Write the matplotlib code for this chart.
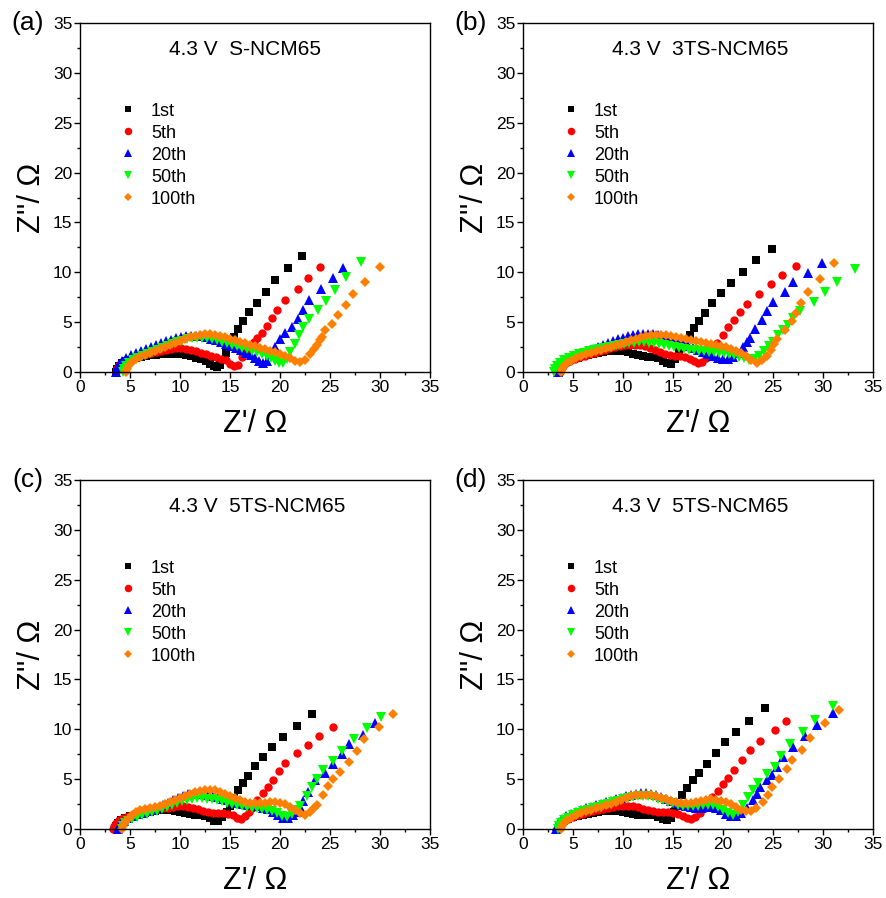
import matplotlib
matplotlib.use("Agg")
import matplotlib.pyplot as plt
from matplotlib.ticker import MultipleLocator

plt.rcParams['font.family'] = ['Liberation Sans', 'DejaVu Sans']

cycles = ['1st', '5th', '20th', '50th', '100th']
colors = ['#000000', '#FF0000', '#0000FF', '#00FF00', '#FF8000']
markers = ['s', 'o', '^', 'v', 'D']
msizes = [5.4, 6.0, 6.9, 6.9, 5.0]

titles = ['4.3 V  S-NCM65', '4.3 V  3TS-NCM65', '4.3 V  5TS-NCM65', '4.3 V  5TS-NCM65']
panel_tags = ['(a)', '(b)', '(c)', '(d)']

# (Z', Z'') points, one list per cycle and panel
a_1st = [(3.6,0.0),(3.7,0.35),(3.9,0.65),(4.2,0.9),(4.6,1.1),(5.1,1.25),(5.6,1.4),(6.1,1.5),(6.6,1.6),(7.1,1.7),
         (7.6,1.75),(8.1,1.8),(8.6,1.85),(9.1,1.85),(9.6,1.85),(10.1,1.8),(10.6,1.7),(11.1,1.6),(11.6,1.45),(12.1,1.3),
         (12.6,1.1),(13.0,0.85),(13.4,0.65),(13.7,0.55),(14.0,0.7),(14.3,1.2),(14.6,1.9),(15.0,2.9),(15.4,3.5),(15.8,4.3),
         (16.3,5.1),(16.9,6.0),(17.7,6.9),(18.6,8.0),(19.5,9.2),(20.8,10.4),(22.2,11.6)]
a_5th = [(3.6,0.0),(3.7,0.4),(3.9,0.7),(4.2,0.95),(4.6,1.2),(5.1,1.4),(5.6,1.55),(6.1,1.7),(6.6,1.85),(7.1,1.95),
         (7.6,2.05),(8.1,2.15),(8.6,2.25),(9.1,2.35),(9.6,2.4),(10.1,2.4),(10.6,2.35),(11.1,2.25),(11.6,2.1),(12.1,1.95),
         (12.6,1.8),(13.1,1.65),(13.6,1.5),(14.1,1.35),(14.6,1.2),(15.0,0.85),(15.4,0.65),(15.8,0.7),(16.2,1.5),(16.6,2.0),
         (17.0,2.5),(17.4,3.0),(17.7,3.4),(18.2,3.95),(18.7,4.6),(19.2,5.45),(19.7,6.25),(20.5,7.2),(21.8,8.3),(22.8,9.4),
         (24.0,10.5)]
a_20th = [(3.6,0.0),(3.7,0.45),(3.9,0.8),(4.2,1.1),(4.6,1.45),(5.1,1.7),(5.6,1.95),(6.1,2.15),(6.6,2.35),(7.1,2.55),
          (7.6,2.75),(8.1,2.95),(8.6,3.1),(9.1,3.25),(9.6,3.4),(10.1,3.5),(10.6,3.6),(11.1,3.65),(11.6,3.65),(12.1,3.6),
          (12.6,3.5),(13.1,3.35),(13.6,3.2),(14.1,3.0),(14.6,2.8),(15.1,2.6),(15.6,2.4),(16.1,2.2),(16.6,1.95),(17.1,1.7),
          (17.5,1.4),(17.9,1.1),(18.3,0.95),(18.7,1.1),(19.0,1.8),(19.5,2.5),(20.0,3.35),(20.5,3.9),(21.2,4.5),(21.8,5.35),
          (22.3,6.2),(22.9,7.2),(24.1,8.3),(25.3,9.4),(26.3,10.45)]
a_50th = [(4.3,0.0),(4.4,0.35),(4.6,0.65),(4.9,0.95),(5.3,1.2),(5.7,1.4),(6.2,1.6),(6.7,1.8),(7.2,2.0),(7.7,2.2),
          (8.2,2.4),(8.7,2.6),(9.2,2.8),(9.7,3.0),(10.2,3.15),(10.7,3.3),(11.2,3.4),(11.7,3.45),(12.2,3.45),(12.7,3.4),
          (13.2,3.3),(13.7,3.2),(14.2,3.05),(14.7,2.9),(15.2,2.75),(15.7,2.6),(16.2,2.45),(16.7,2.3),(17.2,2.15),(17.7,2.0),
          (18.2,1.85),(18.7,1.65),(19.1,1.4),(19.5,1.15),(19.9,0.95),(20.3,0.95),(20.7,1.3),(21.0,2.0),(21.5,2.85),(21.9,3.7),
          (22.3,4.5),(22.9,5.3),(23.8,6.2),(24.6,7.15),(25.5,8.25),(26.6,9.5),(28.1,11.0)]
a_100th = [(4.6,0.0),(4.7,0.35),(4.9,0.7),(5.2,1.0),(5.6,1.3),(6.0,1.5),(6.5,1.7),(7.0,1.9),(7.5,2.1),(8.0,2.3),
           (8.5,2.5),(9.0,2.7),(9.5,2.9),(10.0,3.1),(10.5,3.3),(11.0,3.5),(11.5,3.65),(12.0,3.75),(12.5,3.8),(13.0,3.8),
           (13.5,3.75),(14.0,3.65),(14.5,3.5),(15.0,3.35),(15.5,3.2),(16.0,3.05),(16.5,2.9),(17.0,2.75),(17.5,2.6),(18.0,2.45),
           (18.5,2.3),(19.0,2.15),(19.5,2.0),(20.0,1.85),(20.5,1.65),(21.0,1.4),(21.5,1.15),(22.0,1.0),(22.5,1.2),(23.0,1.85),
           (23.4,2.3),(23.7,2.75),(24.0,3.2),(24.2,3.55),(24.5,4.2),(25.2,4.8),(25.8,5.7),(26.6,6.7),(27.3,7.8),(28.5,9.0),
           (30.0,10.5)]

b_1st = [(3.5,0.0),(3.6,0.35),(3.8,0.65),(4.1,0.9),(4.5,1.1),(5.0,1.3),(5.5,1.45),(6.0,1.6),(6.5,1.75),(7.0,1.85),
         (7.5,1.95),(8.0,2.05),(8.5,2.1),(9.0,2.15),(9.5,2.15),(10.0,2.1),(10.5,2.0),(11.0,1.85),(11.5,1.7),(12.0,1.6),
         (12.5,1.55),(13.0,1.5),(13.5,1.4),(14.0,1.15),(14.4,0.9),(14.8,0.85),(15.2,1.3),(15.6,2.0),(16.0,2.6),(16.7,3.7),
         (17.1,4.4),(17.6,5.1),(18.2,5.9),(18.9,6.9),(19.8,7.9),(20.8,8.9),(22.0,10.0),(23.3,11.2),(24.9,12.3)]
b_5th = [(3.7,0.0),(3.8,0.35),(4.0,0.65),(4.3,0.9),(4.7,1.1),(5.2,1.3),(5.7,1.5),(6.2,1.65),(6.7,1.8),(7.2,1.95),
         (7.7,2.1),(8.2,2.25),(8.7,2.4),(9.2,2.5),(9.7,2.6),(10.2,2.7),(10.7,2.75),(11.2,2.75),(11.7,2.7),(12.2,2.6),
         (12.7,2.45),(13.2,2.25),(13.7,2.0),(14.2,1.85),(14.7,1.75),(15.2,1.65),(15.7,1.6),(16.2,1.5),(16.7,1.35),(17.1,1.1),
         (17.5,0.95),(17.9,1.0),(18.3,1.4),(18.7,2.1),(19.4,2.9),(20.0,3.7),(20.5,4.5),(21.1,5.2),(21.7,6.0),(22.4,6.85),
         (23.6,7.85),(24.8,8.8),(25.9,9.75),(27.3,10.6)]
b_20th = [(3.5,0.0),(3.6,0.35),(3.8,0.7),(4.1,1.0),(4.5,1.25),(5.0,1.5),(5.5,1.7),(6.0,1.9),(6.5,2.1),(7.0,2.3),
          (7.5,2.5),(8.0,2.7),(8.5,2.9),(9.0,3.1),(9.5,3.3),(10.0,3.45),(10.5,3.6),(11.0,3.7),(11.5,3.8),(12.0,3.85),
          (12.5,3.85),(13.0,3.8),(13.5,3.7),(14.0,3.55),(14.5,3.4),(15.0,3.2),(15.5,3.0),(16.0,2.8),(16.5,2.6),(17.0,2.4),
          (17.5,2.2),(18.0,2.0),(18.5,1.8),(19.0,1.6),(19.5,1.45),(20.0,1.35),(20.5,1.35),(21.0,1.5),(21.5,1.9),(22.0,2.5),
          (22.4,3.0),(22.7,3.4),(23.2,4.35),(23.9,5.2),(24.4,6.1),(25.0,7.0),(26.2,8.0),(27.0,9.0),(28.5,9.9),(29.9,10.9)]
b_50th = [(3.1,0.0),(3.2,0.35),(3.4,0.65),(3.7,0.95),(4.1,1.2),(4.6,1.45),(5.1,1.65),(5.6,1.8),(6.1,1.95),(6.6,2.1),
          (7.1,2.2),(7.6,2.3),(8.1,2.4),(8.6,2.5),(9.1,2.6),(9.6,2.7),(10.1,2.8),(10.6,2.9),(11.1,2.95),(11.6,3.0),
          (12.1,3.0),(12.6,2.95),(13.1,2.9),(13.6,2.8),(14.1,2.7),(14.6,2.6),(15.1,2.5),(15.6,2.4),(16.1,2.3),(16.6,2.25),
          (17.1,2.2),(17.6,2.15),(18.1,2.1),(18.6,2.05),(19.1,2.0),(19.6,1.95),(20.1,1.9),(20.6,1.8),(21.1,1.7),(21.6,1.55),
          (22.1,1.4),(22.6,1.25),(23.1,1.3),(23.6,1.6),(24.1,2.1),(24.6,2.6),(25.0,3.05),(25.5,3.7),(26.0,4.2),(26.5,4.7),
          (27.0,5.4),(27.7,6.1),(29.1,7.0),(30.2,8.0),(31.4,9.0),(33.2,10.3)]
b_100th = [(3.8,0.0),(3.9,0.3),(4.1,0.6),(4.4,0.9),(4.8,1.15),(5.3,1.4),(5.8,1.6),(6.3,1.8),(6.8,1.95),(7.3,2.1),
           (7.8,2.25),(8.3,2.4),(8.8,2.55),(9.3,2.7),(9.8,2.85),(10.3,3.0),(10.8,3.2),(11.3,3.35),(11.8,3.5),(12.3,3.6),
           (12.8,3.7),(13.3,3.75),(13.8,3.75),(14.3,3.7),(14.8,3.65),(15.3,3.55),(15.8,3.45),(16.3,3.35),(16.8,3.25),(17.3,3.15),
           (17.8,3.05),(18.3,2.95),(18.8,2.85),(19.3,2.75),(19.8,2.65),(20.3,2.5),(20.8,2.35),(21.3,2.15),(21.8,1.9),(22.3,1.6),
           (22.8,1.25),(23.4,0.95),(23.9,1.2),(24.4,1.6),(24.8,2.2),(25.1,2.8),(25.4,3.35),(26.2,4.2),(26.9,5.1),(27.3,5.9),
           (27.8,6.9),(28.5,8.0),(29.7,9.3),(31.1,10.9)]

c_1st = [(3.5,0.0),(3.6,0.35),(3.8,0.65),(4.1,0.9),(4.5,1.1),(5.0,1.3),(5.5,1.45),(6.0,1.55),(6.5,1.65),(7.0,1.75),
         (7.5,1.85),(8.0,1.9),(8.5,1.9),(9.0,1.9),(9.5,1.85),(10.0,1.75),(10.5,1.6),(11.0,1.5),(11.5,1.45),(12.0,1.4),
         (12.5,1.35),(13.0,1.1),(13.4,0.85),(13.8,0.8),(14.2,1.2),(14.7,1.75),(15.0,2.3),(15.4,3.1),(15.8,3.95),(16.3,4.6),
         (16.8,5.3),(17.5,6.3),(18.3,7.2),(19.2,8.2),(20.3,9.2),(21.7,10.3),(23.2,11.5)]
c_5th = [(3.3,0.0),(3.4,0.35),(3.6,0.65),(3.9,0.9),(4.3,1.1),(4.8,1.3),(5.3,1.45),(5.8,1.6),(6.3,1.7),(6.8,1.8),
         (7.3,1.9),(7.8,2.0),(8.3,2.1),(8.8,2.15),(9.3,2.25),(9.8,2.3),(10.3,2.3),(10.8,2.25),(11.3,2.15),(11.8,2.0),
         (12.3,1.85),(12.8,1.75),(13.3,1.65),(13.8,1.6),(14.3,1.6),(14.8,1.55),(15.3,1.4),(15.7,1.15),(16.1,1.05),(16.5,1.3),
         (16.9,1.7),(17.2,2.1),(17.7,2.9),(18.3,3.6),(18.8,4.2),(19.3,4.9),(19.9,5.8),(20.5,6.6),(21.7,7.6),(22.8,8.4),
         (23.9,9.3),(25.3,10.25)]
c_20th = [(3.8,0.0),(3.9,0.3),(4.1,0.6),(4.4,0.85),(4.8,1.1),(5.3,1.3),(5.8,1.5),(6.3,1.65),(6.8,1.8),(7.3,1.95),
          (7.8,2.15),(8.3,2.4),(8.8,2.65),(9.3,2.9),(9.8,3.15),(10.3,3.35),(10.8,3.5),(11.3,3.55),(11.8,3.55),(12.3,3.5),
          (12.8,3.45),(13.3,3.35),(13.8,3.2),(14.3,3.05),(14.8,2.9),(15.3,2.75),(15.8,2.6),(16.3,2.5),(16.8,2.45),(17.3,2.4),
          (17.8,2.3),(18.3,2.15),(18.8,2.0),(19.3,1.75),(19.8,1.45),(20.3,1.15),(20.8,1.15),(21.3,1.4),(21.7,1.75),(22.0,2.2),
          (22.3,2.8),(22.8,3.7),(23.5,4.9),(24.5,5.6),(25.3,6.5),(26.2,7.5),(26.9,8.5),(28.3,9.4),(29.5,10.6)]
c_50th = [(4.2,0.0),(4.3,0.3),(4.5,0.6),(4.8,0.85),(5.2,1.05),(5.7,1.25),(6.2,1.4),(6.7,1.55),(7.2,1.7),(7.7,1.85),
          (8.2,2.0),(8.7,2.2),(9.2,2.4),(9.7,2.6),(10.2,2.8),(10.7,2.95),(11.2,3.05),(11.7,3.1),(12.2,3.1),(12.7,3.05),
          (13.2,3.0),(13.7,2.9),(14.2,2.8),(14.7,2.65),(15.2,2.5),(15.7,2.4),(16.2,2.3),(16.7,2.2),(17.2,2.15),(17.7,2.1),
          (18.2,2.05),(18.7,1.95),(19.2,1.8),(19.7,1.6),(20.2,1.35),(20.7,1.25),(21.2,1.5),(21.6,1.9),(22.0,2.3),(22.7,3.3),
          (23.2,4.2),(23.7,5.05),(24.3,5.9),(25.3,6.85),(26.2,7.8),(27.4,9.0),(28.7,10.1),(30.1,11.2)]
c_100th = [(4.2,0.0),(4.3,0.35),(4.5,0.7),(4.8,1.05),(5.2,1.4),(5.6,1.7),(6.0,1.9),(6.5,2.05),(7.0,2.15),(7.5,2.25),
           (8.0,2.35),(8.5,2.5),(9.0,2.7),(9.5,2.9),(10.0,3.1),(10.5,3.3),(11.0,3.5),(11.5,3.7),(12.0,3.85),(12.5,3.95),
           (13.0,3.95),(13.5,3.9),(14.0,3.75),(14.5,3.55),(15.0,3.35),(15.5,3.1),(16.0,2.9),(16.5,2.75),(17.0,2.65),(17.5,2.6),
           (18.0,2.6),(18.5,2.65),(19.0,2.7),(19.5,2.7),(20.0,2.65),(20.5,2.5),(21.0,2.25),(21.5,1.9),(22.0,1.6),(22.5,1.45),
           (23.0,1.7),(23.4,2.1),(23.7,2.45),(24.3,3.4),(24.8,4.3),(25.3,5.0),(26.0,5.75),(26.9,6.75),(27.7,7.85),(28.4,9.0),
           (29.9,10.25),(31.3,11.5)]

d_1st = [(3.5,0.0),(3.6,0.3),(3.8,0.6),(4.1,0.85),(4.5,1.05),(5.0,1.2),(5.5,1.35),(6.0,1.45),(6.5,1.55),(7.0,1.65),
         (7.5,1.75),(8.0,1.8),(8.5,1.85),(9.0,1.85),(9.5,1.8),(10.0,1.7),(10.5,1.6),(11.0,1.5),(11.5,1.45),(12.0,1.45),
         (12.5,1.45),(13.0,1.4),(13.5,1.25),(14.0,1.0),(14.4,0.9),(14.8,1.1),(15.1,1.7),(15.4,2.4),(15.9,3.4),(16.4,4.1),
         (17.0,4.9),(17.6,5.6),(18.4,6.5),(19.3,7.6),(20.2,8.7),(21.3,9.7),(22.6,10.8),(24.2,12.1)]
d_5th = [(3.5,0.0),(3.6,0.3),(3.8,0.6),(4.1,0.85),(4.5,1.05),(5.0,1.25),(5.5,1.4),(6.0,1.55),(6.5,1.7),(7.0,1.85),
         (7.5,1.95),(8.0,2.05),(8.5,2.15),(9.0,2.25),(9.5,2.3),(10.0,2.35),(10.5,2.35),(11.0,2.3),(11.5,2.2),(12.0,2.05),
         (12.5,1.9),(13.0,1.8),(13.5,1.75),(14.0,1.7),(14.5,1.7),(15.0,1.65),(15.5,1.55),(16.0,1.35),(16.4,1.15),(16.8,1.05),
         (17.2,1.2),(17.7,1.6),(18.2,2.1),(18.9,3.2),(19.5,3.8),(20.0,4.55),(20.5,5.1),(21.1,5.9),(21.9,6.9),(22.7,7.9),
         (23.7,8.8),(25.2,9.9),(26.3,10.8)]
d_20th = [(3.3,0.0),(3.4,0.35),(3.6,0.7),(3.9,1.0),(4.3,1.3),(4.8,1.55),(5.3,1.75),(5.8,1.95),(6.3,2.1),(6.8,2.25),
          (7.3,2.4),(7.8,2.55),(8.3,2.7),(8.8,2.85),(9.3,3.0),(9.8,3.15),(10.3,3.3),(10.8,3.45),(11.3,3.55),(11.8,3.6),
          (12.3,3.6),(12.8,3.5),(13.3,3.4),(13.8,3.25),(14.3,3.05),(14.8,2.85),(15.3,2.65),(15.8,2.45),(16.3,2.3),(16.8,2.2),
          (17.3,2.15),(17.8,2.15),(18.3,2.2),(18.8,2.25),(19.3,2.15),(19.8,1.9),(20.3,1.55),(20.8,1.3),(21.3,1.3),(21.8,1.6),
          (22.4,2.1),(23.0,2.9),(23.4,3.55),(23.7,4.2),(24.4,4.9),(24.9,5.4),(25.4,6.2),(26.0,7.2),(27.0,8.2),(28.2,9.3),
          (29.4,10.4),(31.0,11.6)]
d_50th = [(3.5,0.0),(3.6,0.3),(3.8,0.6),(4.1,0.9),(4.5,1.15),(5.0,1.4),(5.5,1.6),(6.0,1.8),(6.5,1.95),(7.0,2.1),
          (7.5,2.25),(8.0,2.4),(8.5,2.55),(9.0,2.7),(9.5,2.85),(10.0,3.0),(10.5,3.15),(11.0,3.25),(11.5,3.35),(12.0,3.35),
          (12.5,3.3),(13.0,3.2),(13.5,3.05),(14.0,2.9),(14.5,2.75),(15.0,2.6),(15.5,2.45),(16.0,2.35),(16.5,2.3),(17.0,2.3),
          (17.5,2.35),(18.0,2.4),(18.5,2.45),(19.0,2.4),(19.5,2.25),(20.0,1.95),(20.5,1.6),(21.0,1.45),(21.5,1.7),(22.0,2.45),
          (22.5,3.2),(23.0,3.95),(23.5,4.6),(24.4,5.5),(25.2,6.25),(25.8,7.3),(26.7,8.5),(28.0,9.7),(29.2,10.95),(31.0,12.3)]
d_100th = [(3.8,0.0),(3.9,0.3),(4.1,0.6),(4.4,0.9),(4.8,1.15),(5.3,1.4),(5.8,1.6),(6.3,1.8),(6.8,1.95),(7.3,2.1),
           (7.8,2.25),(8.3,2.4),(8.8,2.55),(9.3,2.75),(9.8,2.95),(10.3,3.15),(10.8,3.3),(11.3,3.4),(11.8,3.45),(12.3,3.45),
           (12.8,3.4),(13.3,3.3),(13.8,3.15),(14.3,3.0),(14.8,2.85),(15.3,2.75),(15.8,2.65),(16.3,2.6),(16.8,2.65),(17.3,2.75),
           (17.8,2.85),(18.3,2.95),(18.8,3.0),(19.3,2.95),(19.8,2.85),(20.3,2.7),(20.8,2.5),(21.3,2.2),(21.8,1.95),(22.3,1.8),
           (22.8,1.8),(23.3,2.1),(24.0,2.75),(24.5,3.4),(24.9,4.2),(25.6,5.0),(26.4,6.0),(26.9,6.9),(27.9,7.9),(28.7,9.1),
           (30.2,10.6),(31.6,11.9)]

panels = [
    [a_1st, a_5th, a_20th, a_50th, a_100th],
    [b_1st, b_5th, b_20th, b_50th, b_100th],
    [c_1st, c_5th, c_20th, c_50th, c_100th],
    [d_1st, d_5th, d_20th, d_50th, d_100th],
]

W, H = 887, 898
fig = plt.figure(figsize=(W / 100, H / 100), dpi=100)
# axes boxes in pixels: left, bottom edge (from top), size 350
boxes = [(80, 372), (523, 372), (80, 829), (523, 829)]

for k, series in enumerate(panels):
    left, bottom = boxes[k]
    ax = fig.add_axes([left / W, (H - bottom) / H, 350 / W, 349 / H])
    for i, pts in enumerate(series):
        xs = [p[0] for p in pts]
        ys = [p[1] for p in pts]
        ax.plot(xs, ys, linestyle='none', marker=markers[i], color=colors[i],
                markersize=msizes[i], markeredgewidth=0, label=cycles[i], clip_on=False)
    ax.set_xlim(0, 35)
    ax.set_ylim(0, 35)
    ax.xaxis.set_major_locator(MultipleLocator(5))
    ax.yaxis.set_major_locator(MultipleLocator(5))
    ax.xaxis.set_minor_locator(MultipleLocator(2.5))
    ax.yaxis.set_minor_locator(MultipleLocator(2.5))
    ax.tick_params(which='both', direction='out', top=False, right=False, width=1, labelsize=12.5)
    ax.tick_params(which='major', length=4)
    ax.tick_params(which='minor', length=2.5)
    ax.tick_params(axis='x', pad=2)
    ax.tick_params(axis='y', pad=1.5)
    for sp in ax.spines.values():
        sp.set_linewidth(1.0)

    ax.set_xlabel("Z'/ \u03a9", fontsize=22)
    ax.set_ylabel("Z''/ \u03a9", fontsize=22)
    ax.xaxis.set_label_coords(0.5, -0.105)
    ax.yaxis.set_label_coords(-0.095, 0.5)

    ax.text(0.255, 0.925, titles[k], transform=ax.transAxes, fontsize=15, ha='left', va='center')
    ax.text(-0.15, 1.0, panel_tags[k], transform=ax.transAxes, fontsize=19, ha='center', va='center')

    ax.legend(loc='upper left', bbox_to_anchor=(0.11, 0.772), frameon=False, fontsize=13,
              markerscale=0.9, handlelength=1.0, handletextpad=0.8, labelspacing=0.28,
              borderpad=0, borderaxespad=0)

fig.savefig('out.png', dpi=100)
